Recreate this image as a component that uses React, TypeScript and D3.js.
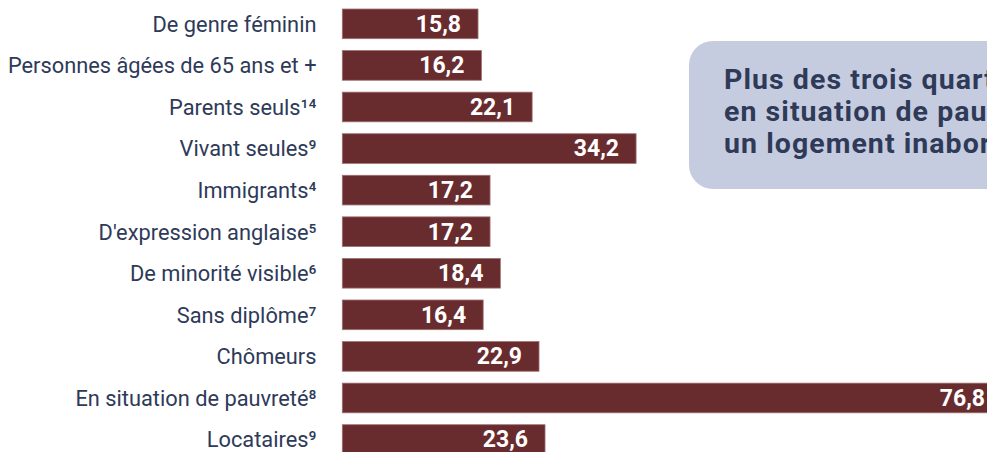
import React from "react";
import * as d3 from "d3";

const categories = [
  "De genre féminin",
  "Personnes âgées de 65 ans et +",
  "Parents seuls¹⁴",
  "Vivant seules⁹",
  "Immigrants⁴",
  "D'expression anglaise⁵",
  "De minorité visible⁶",
  "Sans diplôme⁷",
  "Chômeurs",
  "En situation de pauvreté⁸",
  "Locataires⁹",
];
const values = [15.8, 16.2, 22.1, 34.2, 17.2, 17.2, 18.4, 16.4, 22.9, 76.8, 23.6];
const calloutLines = [
  "Plus des trois quarts des ménages",
  "en situation de pauvreté vivent dans",
  "un logement inabordable",
];

const W = 987;
const H = 452;
const BAR = "#692c2e";
const BAR_EDGE = "#a07172";
const LABEL = "#2e3a58";
const BOX = "#c6ccdf";

export default function App() {
  const x = d3.scaleLinear().domain([0, 100]).range([342.3, 342.3 + 859]);
  const y = d3
    .scaleBand<string>()
    .domain(categories)
    .range([3.06, 3.06 + 11 * 41.57])
    .paddingInner(0.286)
    .paddingOuter(0.143);
  const fmt = (v: number) => v.toFixed(1).replace(".", ",");

  return (
    <div style={{ position: "absolute", left: 0, top: 0 }}>
      <svg width={W} height={H} style={{ display: "block" }}>
        <rect width={W} height={H} fill="#ffffff" />
        {categories.map((c, i) => {
          const y0 = y(c)!;
          const bh = y.bandwidth();
          return (
            <g key={c}>
              <text
                x={316.5}
                y={y0 + bh / 2}
                dy="0.36em"
                textAnchor="end"
                fontFamily="Roboto, 'Noto Sans', sans-serif"
                fontSize={21.8}
                fill={LABEL}
              >
                {c}
              </text>
              <rect
                x={x(0)}
                y={y0}
                width={x(values[i]) - x(0)}
                height={bh}
                fill={BAR}
                stroke={BAR_EDGE}
                strokeWidth={0.8}
              />
              <text
                x={x(values[i]) - 17}
                y={y0 + bh / 2}
                dy="0.34em"
                textAnchor="end"
                fontFamily="Roboto, 'Noto Sans', sans-serif"
                fontWeight={700}
                fontSize={23}
                fill="#ffffff"
              >
                {fmt(values[i])}
              </text>
            </g>
          );
        })}
        <rect x={689} y={41} width={360} height={148} rx={24} ry={24} fill={BOX} />
        {calloutLines.map((t, i) => (
          <text
            key={t}
            x={724}
            y={88.5 + i * 32}
            fontFamily="Roboto, 'Noto Sans', sans-serif"
            fontWeight={700}
            fontSize={28.5}
            letterSpacing={1.05}
            fill={LABEL}
          >
            {t}
          </text>
        ))}
      </svg>
    </div>
  );
}
